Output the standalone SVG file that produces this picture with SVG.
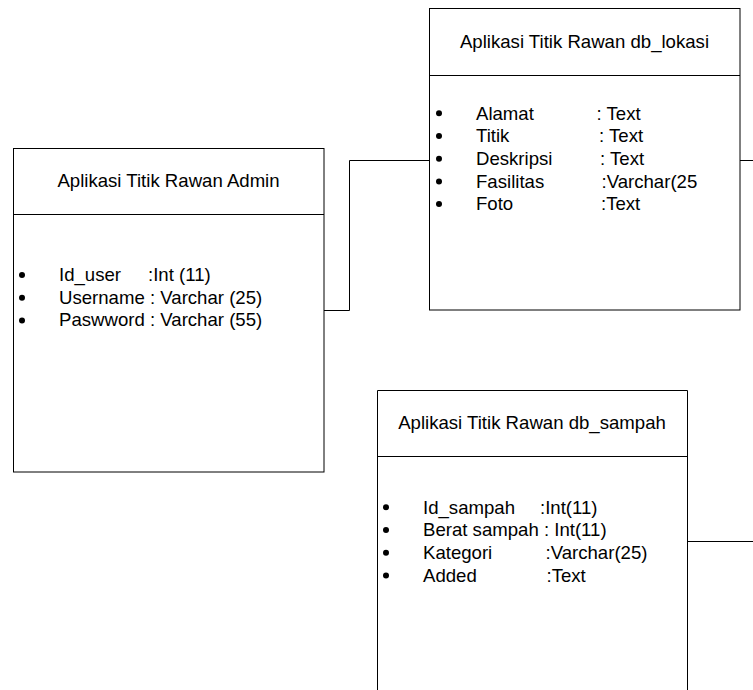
<svg xmlns="http://www.w3.org/2000/svg" width="753" height="690" viewBox="0 0 753 690">
<style>
  .box { fill: #ffffff; stroke: #000000; stroke-width: 1; }
  .line { fill: none; stroke: #000000; stroke-width: 1; }
  .dot { fill: #000000; }
  text { font-family: "Liberation Sans", Arial, sans-serif; font-size: 18.6px; fill: #000000; }
  .title { text-anchor: middle; }
</style>
<rect width="753" height="690" fill="#ffffff"/>
<g id="connectors">
  <polyline class="line" points="324,310.5 349.5,310.5 349.5,160.5 429,160.5"/>
  <line class="line" x1="740" y1="160.5" x2="753" y2="160.5"/>
  <line class="line" x1="687" y1="541.5" x2="753" y2="541.5"/>
</g>
<g id="admin">
  <rect class="box" x="13.5" y="148.5" width="310.5" height="323.5"/>
  <line class="line" x1="13.5" y1="214.5" x2="324" y2="214.5"/>
  <text class="title" x="168.5" y="187">Aplikasi Titik Rawan Admin</text>
  <circle class="dot" cx="22" cy="275" r="3"/>
  <circle class="dot" cx="22" cy="297.7" r="3"/>
  <circle class="dot" cx="22" cy="320.4" r="3"/>
  <text x="59" y="281">Id_user</text>
  <text x="148" y="281">:Int (11)</text>
  <text x="59" y="303.7">Username : Varchar (25)</text>
  <text x="59" y="326.4">Paswword : Varchar (55)</text>
</g>
<g id="db_lokasi">
  <rect class="box" x="429.5" y="8.5" width="310.5" height="301.5"/>
  <line class="line" x1="429.5" y1="75.5" x2="740" y2="75.5"/>
  <text class="title" x="584.5" y="48">Aplikasi Titik Rawan db_lokasi</text>
  <circle class="dot" cx="439" cy="113.3" r="3"/>
  <circle class="dot" cx="439" cy="136" r="3"/>
  <circle class="dot" cx="439" cy="158.7" r="3"/>
  <circle class="dot" cx="439" cy="181.4" r="3"/>
  <circle class="dot" cx="439" cy="204" r="3"/>
  <text x="476" y="119.5">Alamat</text>
  <text x="476" y="142.2">Titik</text>
  <text x="476" y="164.9">Deskripsi</text>
  <text x="476" y="187.6">Fasilitas</text>
  <text x="476" y="210.3">Foto</text>
  <text x="596.5" y="119.5">: Text</text>
  <text x="599" y="142.2">: Text</text>
  <text x="600" y="164.9">: Text</text>
  <text x="601.5" y="187.6">:Varchar(25</text>
  <text x="601" y="210.3">:Text</text>
</g>
<g id="db_sampah">
  <polyline class="box" points="377.5,700 377.5,390.5 687.5,390.5 687.5,700"/>
  <line class="line" x1="377.5" y1="456.5" x2="687.5" y2="456.5"/>
  <text class="title" x="532" y="429">Aplikasi Titik Rawan db_sampah</text>
  <circle class="dot" cx="386" cy="507.3" r="3"/>
  <circle class="dot" cx="386" cy="530" r="3"/>
  <circle class="dot" cx="386" cy="552.7" r="3"/>
  <circle class="dot" cx="386" cy="575.4" r="3"/>
  <text x="423" y="513.5">Id_sampah</text>
  <text x="540" y="513.5">:Int(11)</text>
  <text x="423" y="536.2">Berat sampah : Int(11)</text>
  <text x="423" y="558.9">Kategori</text>
  <text x="545.5" y="558.9">:Varchar(25)</text>
  <text x="423" y="581.6">Added</text>
  <text x="546.5" y="581.6">:Text</text>
</g>
</svg>
